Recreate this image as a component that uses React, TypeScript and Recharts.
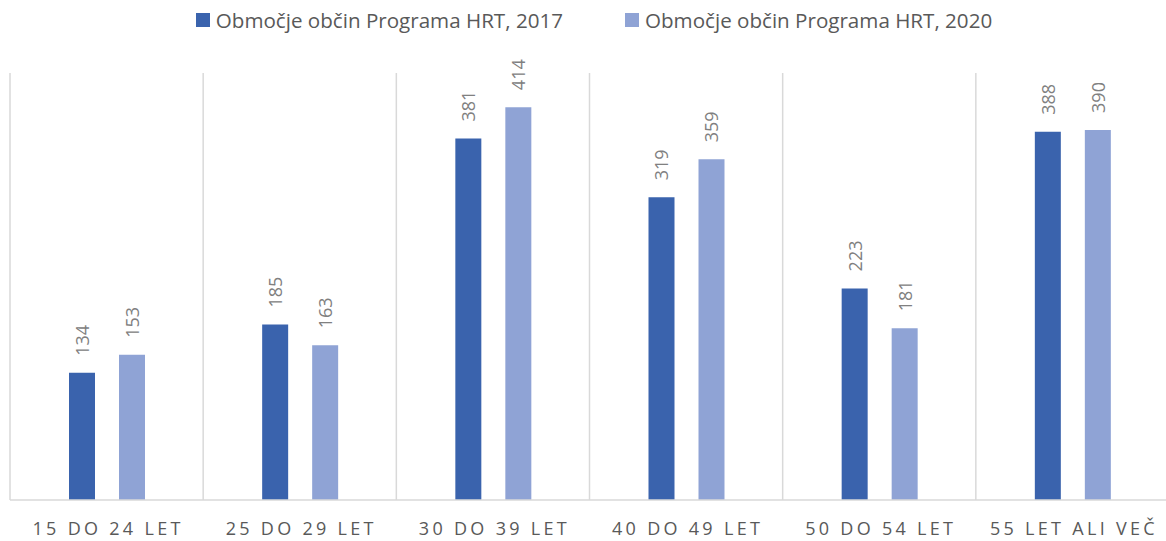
import { BarChart, Bar, XAxis, YAxis, CartesianGrid, Legend, LabelList } from "recharts";

const categories = ["15 DO 24 LET", "25 DO 29 LET", "30 DO 39 LET", "40 DO 49 LET", "50 DO 54 LET", "55 LET ALI VEČ"];
const values2017 = [134, 185, 381, 319, 223, 388];
const values2020 = [153, 163, 414, 359, 181, 390];
const seriesNames = ["Območje občin Programa HRT, 2017", "Območje občin Programa HRT, 2020"];

const data = categories.map((name, i) => ({
  name,
  v2017: values2017[i],
  v2020: values2020[i],
}));

const colors = {
  dark: "#3A63AD",
  light: "#8FA3D5",
  grid: "#D9D9D9",
  label: "#808080",
  text: "#595959",
};

function LegendContent() {
  const items = [
    { name: seriesNames[0], color: colors.dark },
    { name: seriesNames[1], color: colors.light },
  ];
  return (
    <div style={{ height: 73, display: "flex", justifyContent: "center", gap: 62, paddingTop: 6, paddingLeft: 22, boxSizing: "border-box" }}>
      {items.map((it) => (
        <div key={it.name} style={{ display: "flex", alignItems: "flex-start", height: 30 }}>
          <div style={{ width: 14, height: 14, background: it.color, marginTop: 7, marginRight: 6 }} />
          <span style={{ fontSize: 20.6, color: colors.text, lineHeight: "28px" }}>{it.name}</span>
        </div>
      ))}
    </div>
  );
}

function CategoryTick({ x, y, payload }: any) {
  return (
    <text x={x + 1.5} y={y + 27} textAnchor="middle" fill={colors.text} fontSize={18} style={{ letterSpacing: 3.3 }}>
      {payload.value}
    </text>
  );
}

function ValueLabel({ x, y, width, value }: any) {
  const cx = x + width / 2;
  const ty = y - 17;
  return (
    <text
      x={cx}
      y={ty}
      transform={`rotate(-90 ${cx} ${ty})`}
      textAnchor="start"
      dominantBaseline="central"
      fill={colors.label}
      fontSize={18}
    >
      {value}
    </text>
  );
}

export default function App() {
  return (
    <div style={{ position: "absolute", left: 0, top: 0, width: 1166, height: 541, fontFamily: "'Open Sans', sans-serif", background: "#fff" }}>
      <BarChart
        width={1166}
        height={541}
        data={data}
        margin={{ top: 0, right: -3, left: 10, bottom: 5 }}
        barGap={24}
        barSize={26}
      >
        <CartesianGrid
          horizontal={false}
          stroke={colors.grid}
          strokeWidth={1.5}
          verticalCoordinatesGenerator={({ offset }: any) =>
            Array.from({ length: categories.length + 1 }, (_, i) => offset.left + (i * offset.width) / categories.length)
          }
        />
        <XAxis
          dataKey="name"
          axisLine={{ stroke: colors.grid, strokeWidth: 1.5 }}
          tickLine={false}
          height={36}
          interval={0}
          tick={<CategoryTick />}
        />
        <YAxis hide domain={[0, 450]} />
        <Legend verticalAlign="top" content={<LegendContent />} wrapperStyle={{ top: 0, left: 0, width: 1166 }} />
        <Bar dataKey="v2017" name={seriesNames[0]} fill={colors.dark} isAnimationActive={false}>
          <LabelList dataKey="v2017" content={<ValueLabel />} />
        </Bar>
        <Bar dataKey="v2020" name={seriesNames[1]} fill={colors.light} isAnimationActive={false}>
          <LabelList dataKey="v2020" content={<ValueLabel />} />
        </Bar>
      </BarChart>
    </div>
  );
}
